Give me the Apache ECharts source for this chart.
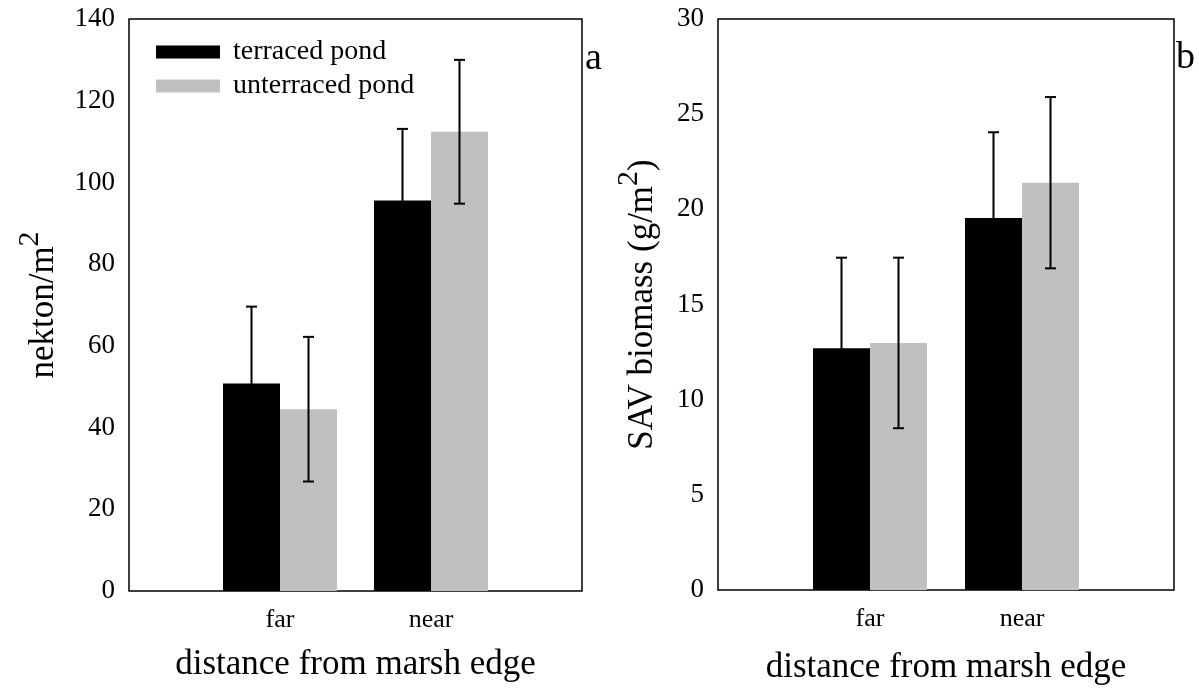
<!DOCTYPE html>
<html lang="en">
<head>
    <meta charset="UTF-8">
    <title>nekton and SAV biomass</title>
    <script src="https://cdn.jsdelivr.net/npm/echarts@6/dist/echarts.min.js"></script>
    <style>
        body { margin: 0; background: #fff; }
    </style>
</head>
<body>
<div id="chart" style="width: 1199px; height: 690px;"></div>

<script type="text/javascript">
    // categories sit at the 1/3 and 2/3 positions, padded with empty slots
    var categories = ['', 'far', 'near', ''];

    // panel a: nekton/m2
    var nektonTerraced = ['-', 50.8, 95.6, '-'];
    var nektonTerracedErr = ['-', 18.8, 17.5, '-'];
    var nektonUnterraced = ['-', 44.5, 112.4, '-'];
    var nektonUnterracedErr = ['-', 17.7, 17.6, '-'];

    // panel b: SAV biomass (g/m2)
    var savTerraced = ['-', 12.7, 19.55, '-'];
    var savTerracedErr = ['-', 4.76, 4.5, '-'];
    var savUnterraced = ['-', 12.98, 21.4, '-'];
    var savUnterracedErr = ['-', 4.48, 4.5, '-'];

    var font = 'Liberation Serif, Times New Roman, serif';
    var barW = 57;

    // triples [categoryIndex, mean, err] for the custom error bar series
    function errData(means, errs) {
        var out = [];
        for (var i = 0; i < means.length; i++) {
            if (means[i] !== '-') out.push([i, means[i], errs[i]]);
        }
        return out;
    }

    function errorBars(axisIdx, means, errs, shift) {
        return {
            type: 'custom',
            xAxisIndex: axisIdx,
            yAxisIndex: axisIdx,
            z: 10,
            silent: true,
            data: errData(means, errs),
            renderItem: function (params, api) {
                var idx = api.value(0), m = api.value(1), e = api.value(2);
                var hi = api.coord([idx, m + e]);
                var lo = api.coord([idx, m - e]);
                var x = hi[0] + shift;
                var cap = 5.5;
                var st = { stroke: '#000', lineWidth: 2 };
                return {
                    type: 'group',
                    children: [
                        { type: 'line', shape: { x1: x, y1: hi[1], x2: x, y2: lo[1] }, style: st },
                        { type: 'line', shape: { x1: x - cap, y1: hi[1], x2: x + cap, y2: hi[1] }, style: st },
                        { type: 'line', shape: { x1: x - cap, y1: lo[1], x2: x + cap, y2: lo[1] }, style: st }
                    ]
                };
            }
        };
    }

    function xAxisFor(idx, gap) {
        return {
            type: 'category',
            gridIndex: idx,
            data: categories,
            boundaryGap: false,
            axisLine: { show: false },
            axisTick: { show: false },
            axisLabel: { interval: 0, margin: 16, color: '#000', fontFamily: font, fontSize: 26 },
            name: 'distance from marsh edge',
            nameLocation: 'middle',
            nameGap: gap,
            nameTextStyle: { color: '#000', fontFamily: font, fontSize: 35 }
        };
    }

    var nameRich = {
        b: { fontFamily: font, fontSize: 35, color: '#000', lineHeight: 46, verticalAlign: 'bottom' },
        s: { fontFamily: font, fontSize: 30, color: '#000', lineHeight: 46, verticalAlign: 'top' }
    };

    var myChart = echarts.init(document.getElementById('chart'));

    var option = {
        animation: false,
        backgroundColor: '#fff',
        title: [
            { text: 'a', left: 580, top: 35, textStyle: { fontFamily: font, fontSize: 38, fontWeight: 'normal', color: '#000' } },
            { text: 'b', left: 1171, top: 34, textStyle: { fontFamily: font, fontSize: 38, fontWeight: 'normal', color: '#000' } }
        ],
        legend: {
            data: ['terraced pond', 'unterraced pond'],
            orient: 'vertical',
            left: 151,
            top: 33,
            icon: 'rect',
            itemWidth: 64,
            itemHeight: 13,
            itemGap: 6,
            textStyle: { fontFamily: font, fontSize: 28, color: '#000', lineHeight: 28, padding: [0, 0, 0, 8] }
        },
        grid: [
            { left: 129, top: 19, width: 453, height: 572, show: true, borderColor: '#000', borderWidth: 1.5 },
            { left: 718, top: 19, width: 456, height: 572, show: true, borderColor: '#000', borderWidth: 1.5 }
        ],
        xAxis: [xAxisFor(0, 56), xAxisFor(1, 60)],
        yAxis: [
            {
                type: 'value', gridIndex: 0, min: 0, max: 140, interval: 20,
                axisLine: { show: false }, axisTick: { show: false }, splitLine: { show: false },
                axisLabel: { margin: 14, color: '#000', fontFamily: font, fontSize: 27 },
                name: '{b|nekton/m}{s|2}',
                nameLocation: 'middle',
                nameGap: 68,
                nameTextStyle: { rich: nameRich }
            },
            {
                type: 'value', gridIndex: 1, min: 0, max: 30, interval: 5,
                axisLine: { show: false }, axisTick: { show: false }, splitLine: { show: false },
                axisLabel: { margin: 14, color: '#000', fontFamily: font, fontSize: 27 },
                name: '{b|SAV biomass (g/m}{s|2}{b|)}',
                nameLocation: 'middle',
                nameGap: 58,
                nameTextStyle: { rich: nameRich }
            }
        ],
        series: [
            { name: 'terraced pond', type: 'bar', xAxisIndex: 0, yAxisIndex: 0, data: nektonTerraced,
              barWidth: barW, barGap: '0%', itemStyle: { color: '#000' } },
            { name: 'unterraced pond', type: 'bar', xAxisIndex: 0, yAxisIndex: 0, data: nektonUnterraced,
              barWidth: barW, barGap: '0%', itemStyle: { color: '#c0c0c0' } },
            { name: 'terraced pond', type: 'bar', xAxisIndex: 1, yAxisIndex: 1, data: savTerraced,
              barWidth: barW, barGap: '0%', itemStyle: { color: '#000' } },
            { name: 'unterraced pond', type: 'bar', xAxisIndex: 1, yAxisIndex: 1, data: savUnterraced,
              barWidth: barW, barGap: '0%', itemStyle: { color: '#c0c0c0' } },
            errorBars(0, nektonTerraced, nektonTerracedErr, -barW / 2),
            errorBars(0, nektonUnterraced, nektonUnterracedErr, barW / 2),
            errorBars(1, savTerraced, savTerracedErr, -barW / 2),
            errorBars(1, savUnterraced, savUnterracedErr, barW / 2)
        ]
    };

    myChart.setOption(option);
</script>
</body>
</html>
